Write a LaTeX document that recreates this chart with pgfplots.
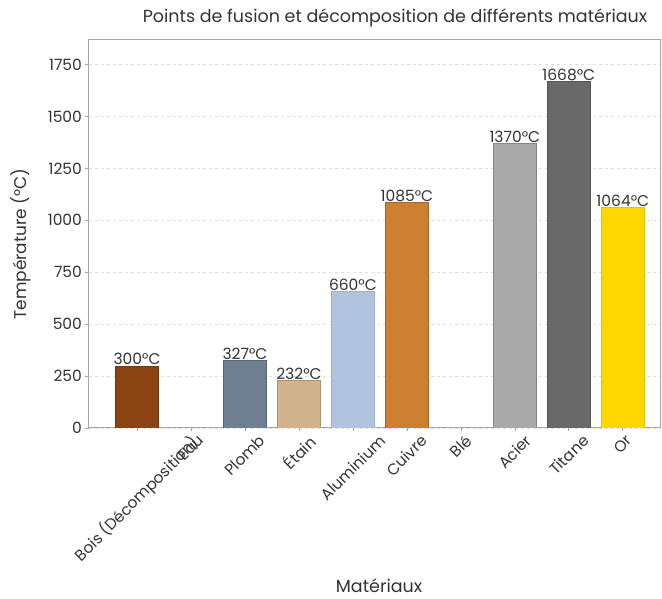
\documentclass[border=0pt]{standalone}
\usepackage{pgfplots}
\pgfplotsset{compat=1.18}
\usepackage{fontspec}
\setmainfont{Poppins}
\usetikzlibrary{calc}
\definecolor{bois}{HTML}{8B4513}
\definecolor{plomb}{HTML}{6E7F91}
\definecolor{etain}{HTML}{D2B48C}
\definecolor{alu}{HTML}{B0C4DE}
\definecolor{cuivre}{HTML}{CD7F32}
\definecolor{acier}{HTML}{A9A9A9}
\definecolor{titane}{HTML}{696969}
\definecolor{or}{HTML}{FFD700}
\definecolor{txt}{HTML}{333333}
\begin{document}
\begin{tikzpicture}
\begin{axis}[
  scale only axis,
  width=571pt, height=388pt,
  xmin=-0.89, xmax=9.69,
  ymin=0, ymax=1868,
  ybar, bar width=0.8, bar shift=0pt,
  xtick={0,1,2,3,4,5,6,7,8,9},
  xticklabels={\rotatebox{45}{Bois (Décomposition)},\rotatebox{45}{Eau},\rotatebox{45}{Plomb},\rotatebox{45}{Étain},\rotatebox{45}{Aluminium},\rotatebox{45}{Cuivre},\rotatebox{45}{Blé},\rotatebox{45}{Acier},\rotatebox{45}{Titane},\rotatebox{45}{Or}},
  xticklabel style={anchor=north, inner sep=2pt},
  ytick={0,250,500,750,1000,1250,1500,1750},
  /pgf/number format/assume math mode=true,
  /pgf/number format/1000 sep={},
  ticklabel style={font=\fontsize{15.5}{17}\selectfont, text=txt},
  tick pos=left, tick align=outside,
  major tick length=3.5pt,
  tick style={gray!70, line width=0.6pt},
  axis line style={gray!70, line width=1pt},
  ymajorgrids, grid style={dashed, gray!25, line width=0.5pt},
  title={Points de fusion et décomposition de différents matériaux},
  every axis title/.style={at={(axis description cs:0.536,1)}, yshift=22pt, anchor=center, font=\fontsize{17.5}{19}\selectfont, text=txt},
  xlabel={Matériaux},
  every axis x label/.style={at={(axis description cs:0.508,0)}, yshift=-165pt, anchor=base, font=\fontsize{17.5}{19}\selectfont, text=txt},
  ylabel={Température (°C)},
  every axis y label/.style={at={(axis description cs:-0.12,0.474)}, rotate=90, anchor=center, font=\fontsize{17}{19}\selectfont, text=txt},
  nodes near coords={\pgfmathprintnumber[assume math mode=true,1000 sep={}]{\pgfplotspointmeta}°C},
  every node near coord/.append style={font=\fontsize{15.5}{17}\selectfont, text=txt, inner sep=0.5pt, anchor=south},
]
\addplot[fill=bois, draw=bois!80!black, line width=0.3pt] coordinates {(0,300)};
\addplot[fill=plomb, draw=plomb!80!black, line width=0.3pt] coordinates {(2,327)};
\addplot[fill=etain, draw=etain!80!black, line width=0.3pt] coordinates {(3,232)};
\addplot[fill=alu, draw=alu!90!black, line width=0.3pt] coordinates {(4,660)};
\addplot[fill=cuivre, draw=cuivre!80!black, line width=0.3pt] coordinates {(5,1085)};
\addplot[fill=acier, draw=acier!80!black, line width=0.3pt] coordinates {(7,1370)};
\addplot[fill=titane, draw=titane!80!black, line width=0.3pt] coordinates {(8,1668)};
\addplot[fill=or, draw=or!90!black, line width=0.3pt] coordinates {(9,1064)};
\end{axis}
\pgfresetboundingbox
\path[use as bounding box] ($(current axis.south west)+(-89pt,-171pt)$) rectangle ($(current axis.north east)+(2pt,40pt)$);
\end{tikzpicture}
\end{document}
